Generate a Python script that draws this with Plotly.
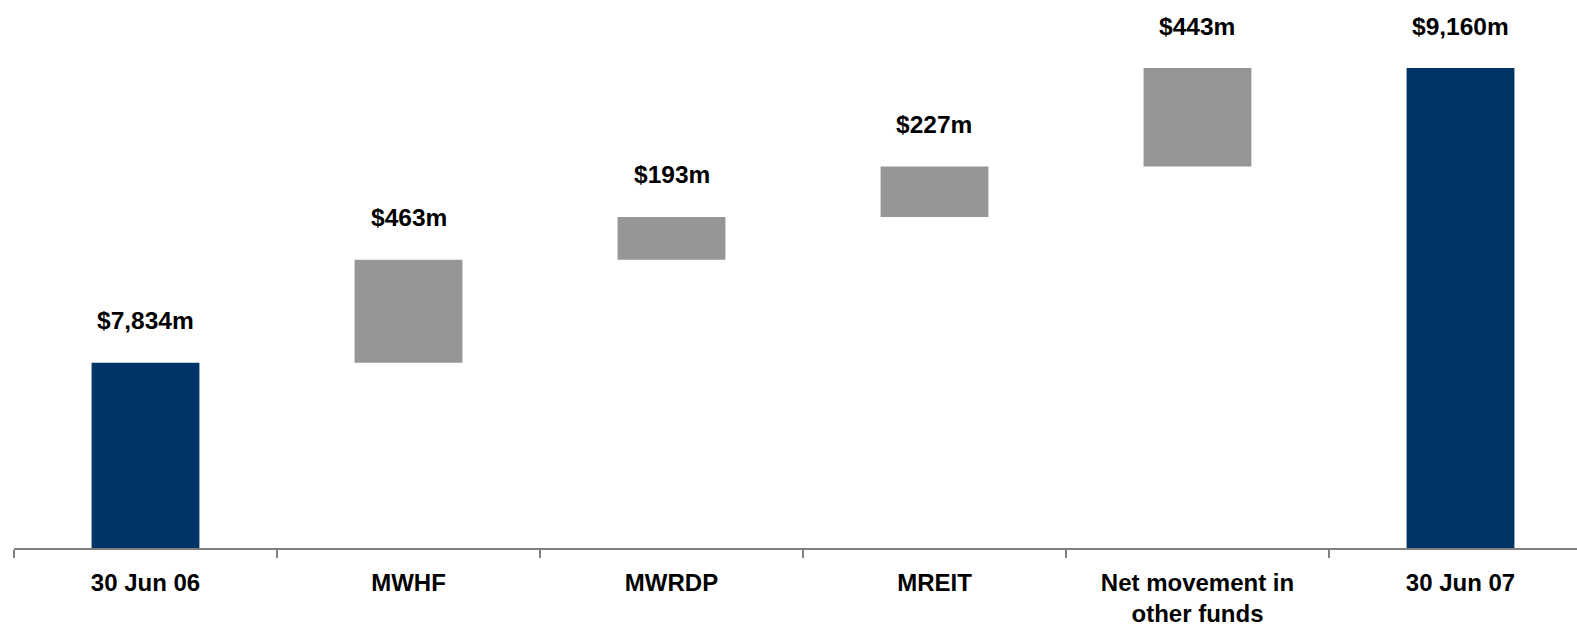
import plotly.graph_objects as go

categories = ["30 Jun 06", "MWHF", "MWRDP", "MREIT", "Net movement in<br>other funds", "30 Jun 07"]
steps = [7834, 463, 193, 227, 443, 9160]
kinds = ["total", "delta", "delta", "delta", "delta", "total"]
labels = ["$7,834m", "$463m", "$193m", "$227m", "$443m", "$9,160m"]

NAVY = "#003366"
GRAY = "#969696"

bases, heights, colors, tops = [], [], [], []
running = 0
for v, k in zip(steps, kinds):
    if k == "total":
        bases.append(0)
        heights.append(v)
        colors.append(NAVY)
        running = v
        tops.append(v)
    else:
        bases.append(running)
        heights.append(v)
        colors.append(GRAY)
        running += v
        tops.append(running)

fig = go.Figure()
fig.add_trace(go.Bar(
    x=categories, y=heights, base=bases,
    marker=dict(color=colors, line=dict(width=0)),
    width=0.41, hoverinfo="skip",
))

for c, t, lab in zip(categories, tops, labels):
    fig.add_annotation(x=c, y=t, text="<b>" + lab + "</b>", showarrow=False,
                       yanchor="middle", yshift=42,
                       font=dict(family="Liberation Sans, Arial", size=24.5, color="#000000"))

fig.update_layout(
    width=1577, height=626,
    margin=dict(l=14, r=0, t=0, b=78),
    paper_bgcolor="white", plot_bgcolor="white",
    showlegend=False,
    font=dict(family="Liberation Sans, Arial", size=22, color="#000000"),
)
fig.update_xaxes(
    type="category", range=[-0.5, 5.443],
    showline=True, linecolor="#808080", linewidth=1.5,
    ticks="outside", tickson="boundaries", ticklen=8, tickcolor="#808080", tickwidth=1.5,
    showgrid=False, zeroline=False,
    tickfont=dict(family="Liberation Sans, Arial", size=24, color="#000000", weight="bold"),
    ticklabelstandoff=12,
)
fig.update_yaxes(range=[7000, 9466], visible=False, showgrid=False, zeroline=False)

fig.write_html("out.html")
